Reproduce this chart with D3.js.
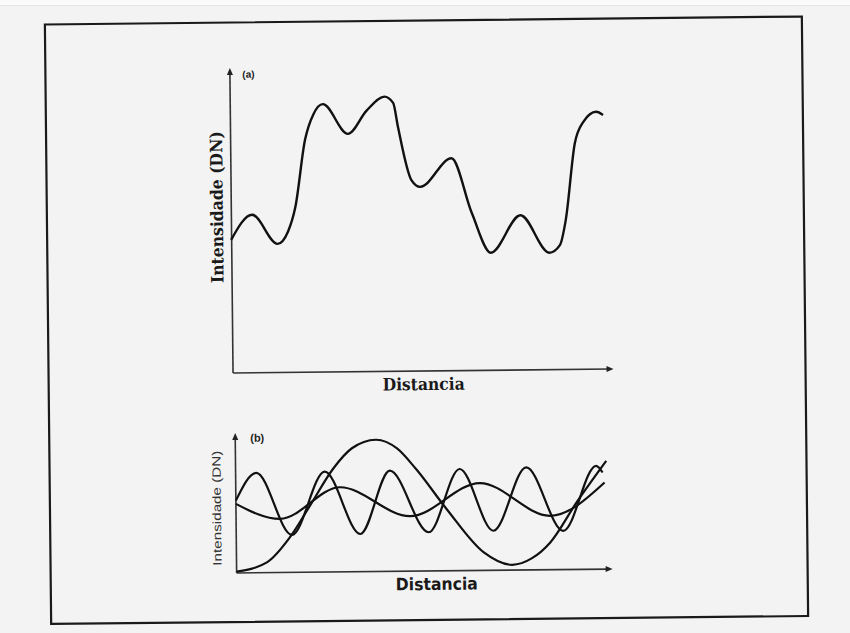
<!DOCTYPE html>
<html>
<head>
<meta charset="utf-8">
<script src="https://cdn.jsdelivr.net/npm/d3@7"></script>
<style>
  body { margin: 0; background: #f3f3f3; }
  svg { display: block; }
</style>
</head>
<body>
<div id="chart"></div>
<script>
// panel (a): one intensity profile along the distance
var distA = [0, 5.6, 12.2, 15.0, 17.0, 19.7, 22.0, 24.5, 31.0, 36.0, 40.7, 43.0, 44.2, 47.6, 49.9, 58.2, 63.4, 68.3, 76.2, 83.7, 86.5, 88.1, 90.7, 93.0, 96.4, 98.2];
var intA = [44.4, 52.7, 42.9, 47.0, 55.2, 77.4, 86.0, 89.3, 79.3, 87.0, 91.6, 89.5, 81.5, 63.7, 61.4, 70.8, 52.5, 39.2, 51.6, 39.0, 41.5, 49.8, 75.4, 82.5, 85.8, 84.7];

// panel (b): three components of the profile
var distB1 = [0, 8.2, 14.0, 19.7, 25.9, 31.0, 37.4, 43.0, 48.0, 56.0, 65.8, 73.3, 78.5, 83.5, 90.6, 98.6];
var intB1 = [1.0, 7.8, 25.0, 49.3, 76.3, 91.5, 97.6, 91.0, 75.6, 45.8, 13.3, 3.9, 8.5, 20.2, 49.6, 80.1];

var distB2 = [0, 11.7, 27.7, 46.3, 64.9, 83.5, 98.1];
var intB2 = [51.2, 39.7, 62.7, 40.7, 64.7, 39.9, 64.2];

var distB3 = [0, 5.5, 14.8, 23.7, 33.0, 41.0, 51.2, 59.6, 68.4, 77.3, 87.0, 95.9, 97.6];
var intB3 = [53.6, 74.0, 27.8, 74.4, 27.9, 74.6, 28.7, 75.3, 29.3, 76.0, 28.7, 76.6, 71.6];

var svgWidth = 850;
var svgHeight = 633;

var svg = d3.select("#chart").append("svg").attr("width", svgWidth).attr("height", svgHeight);

svg.append("rect").attr("x", 0).attr("y", 0).attr("width", svgWidth).attr("height", 5).attr("fill", "#fbfbfb");
svg.append("line").attr("x1", 0).attr("x2", svgWidth).attr("y1", 5.5).attr("y2", 5.5).attr("stroke", "#e6e6e6");

// the scan is a bit tilted
var page = svg.append("g").attr("transform", "rotate(-0.6, 425, 320)");

page.append("rect")
  .attr("x", 48).attr("y", 20.5)
  .attr("width", 757).attr("height", 599.5)
  .attr("fill", "none")
  .attr("stroke", "#1a1a1a")
  .attr("stroke-width", 2.2);

var ink = "#111";

function arrowAxes(g, x0, y0, xEnd, yTop) {
  g.append("line").attr("x1", x0).attr("y1", y0).attr("x2", xEnd - 4).attr("y2", y0)
    .attr("stroke", "#333").attr("stroke-width", 1.6);
  g.append("line").attr("x1", x0).attr("y1", y0).attr("x2", x0).attr("y2", yTop + 4)
    .attr("stroke", "#333").attr("stroke-width", 1.6);
  g.append("path").attr("d", `M${xEnd},${y0} L${xEnd - 7},${y0 - 3} L${xEnd - 7},${y0 + 3} Z`).attr("fill", "#222");
  g.append("path").attr("d", `M${x0},${yTop} L${x0 - 3},${yTop + 7} L${x0 + 3},${yTop + 7} Z`).attr("fill", "#222");
}

// ---------- panel (a)
var xScaleA = d3.scaleLinear().domain([0, 100]).range([232, 612]);
var yScaleA = d3.scaleLinear().domain([0, 100]).range([371, 71]);

var gA = page.append("g");
arrowAxes(gA, 232.5, 371, 613, 66);

var lineA = d3.line()
  .x(d => xScaleA(d[0]))
  .y(d => yScaleA(d[1]))
  .curve(d3.curveMonotoneX);

gA.append("path")
  .datum(d3.zip(distA, intA))
  .attr("d", lineA)
  .attr("fill", "none")
  .attr("stroke", ink)
  .attr("stroke-width", 2.4)
  .attr("stroke-linejoin", "round");

gA.append("text")
  .attr("x", 251).attr("y", 76)
  .attr("text-anchor", "middle")
  .style("font-family", "Liberation Sans, Arial, sans-serif")
  .style("font-weight", "bold")
  .style("font-size", "10px")
  .attr("fill", "#222")
  .text("(a)");

gA.append("text")
  .attr("transform", "translate(224, 205) rotate(-90)")
  .attr("text-anchor", "middle")
  .attr("textLength", 152)
  .attr("lengthAdjust", "spacingAndGlyphs")
  .style("font-family", "'DejaVu Serif Condensed', 'DejaVu Serif', serif")
  .style("font-weight", "bold")
  .style("font-size", "17px")
  .attr("fill", "#1a1a1a")
  .text("Intensidade (DN)");

gA.append("text")
  .attr("x", 423).attr("y", 390)
  .attr("text-anchor", "middle")
  .attr("textLength", 82)
  .attr("lengthAdjust", "spacingAndGlyphs")
  .style("font-family", "'DejaVu Serif Condensed', 'DejaVu Serif', serif")
  .style("font-weight", "bold")
  .style("font-size", "17px")
  .attr("fill", "#1a1a1a")
  .text("Distancia");

// ---------- panel (b)
var xScaleB = d3.scaleLinear().domain([0, 100]).range([234, 610]);
var yScaleB = d3.scaleLinear().domain([0, 100]).range([571, 436]);

var gB = page.append("g");
arrowAxes(gB, 234, 571, 610, 431);

var lineB = d3.line()
  .x(d => xScaleB(d[0]))
  .y(d => yScaleB(d[1]))
  .curve(d3.curveMonotoneX);

var seriesB = [d3.zip(distB1, intB1), d3.zip(distB2, intB2), d3.zip(distB3, intB3)];

gB.selectAll(".comp").data(seriesB).enter()
  .append("path")
  .classed("comp", true)
  .attr("d", lineB)
  .attr("fill", "none")
  .attr("stroke", ink)
  .attr("stroke-width", 2.2)
  .attr("stroke-linejoin", "round");

gB.append("text")
  .attr("x", 256).attr("y", 440)
  .attr("text-anchor", "middle")
  .style("font-family", "Liberation Sans, Arial, sans-serif")
  .style("font-weight", "bold")
  .style("font-size", "11px")
  .attr("fill", "#222")
  .text("(b)");

gB.append("text")
  .attr("transform", "translate(219, 506) rotate(-90)")
  .attr("text-anchor", "middle")
  .attr("textLength", 115)
  .attr("lengthAdjust", "spacingAndGlyphs")
  .style("font-family", "Liberation Sans, Arial, sans-serif")
  .style("font-size", "12px")
  .attr("fill", "#333")
  .text("Intensidade (DN)");

gB.append("text")
  .attr("x", 434).attr("y", 590)
  .attr("text-anchor", "middle")
  .attr("textLength", 82)
  .attr("lengthAdjust", "spacingAndGlyphs")
  .style("font-family", "'DejaVu Sans Condensed', 'DejaVu Sans', sans-serif")
  .style("font-weight", "bold")
  .style("font-size", "17px")
  .attr("fill", "#1a1a1a")
  .text("Distancia");
</script>
</body>
</html>
